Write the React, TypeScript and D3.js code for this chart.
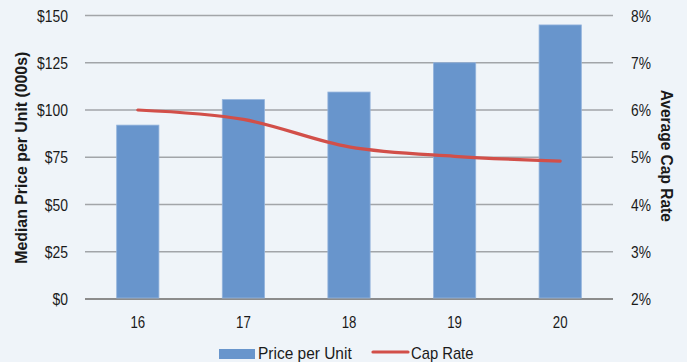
import React from "react";
import * as d3 from "d3";

const years = ["16", "17", "18", "19", "20"];
const pricePerUnit = [92, 105.5, 109.5, 125, 145];
const capRate = [6.0, 5.8, 5.22, 5.02, 4.92];
const leftTicks = [0, 25, 50, 75, 100, 125, 150];
const rightTicks = [2, 3, 4, 5, 6, 7, 8];

const W = 687;
const H = 362;
const FONT = "'Liberation Sans', Arial, sans-serif";

function SText(props: {
  x: number;
  y: number;
  sx: number;
  anchor?: string;
  size: number;
  dy?: string;
  weight?: string;
  rot?: number;
  children: React.ReactNode;
}) {
  const { x, y, sx, anchor = "start", size, dy, weight = "normal", rot = 0 } = props;
  return (
    <text
      transform={`translate(${x},${y}) rotate(${rot}) scale(${sx},1)`}
      textAnchor={anchor}
      dy={dy}
      fontFamily={FONT}
      fontSize={size}
      fontWeight={weight}
      fill="#1a1a1a"
    >
      {props.children}
    </text>
  );
}

export default function App() {
  const left = 85;
  const right = 613;
  const top = 15.5;
  const bottom = 299;

  const x = d3.scaleBand<string>().domain(years).range([left, right]).padding(0);
  const yL = d3.scaleLinear().domain([0, 150]).range([bottom, top]);
  const yR = d3.scaleLinear().domain([2, 8]).range([bottom, top]);
  const barW = x.bandwidth() * 0.4;
  const cx = (yr: string) => (x(yr) as number) + x.bandwidth() / 2;

  const line = d3
    .line<number>()
    .x((_, i) => cx(years[i]))
    .y((d) => yR(d))
    .curve(d3.curveCatmullRom.alpha(0.5));

  return (
    <svg width={W} height={H} style={{ position: "absolute", left: 0, top: 0, display: "block" }}>
      <rect x={0} y={0} width={W} height={H} fill="#EFF4F9" />
      {leftTicks.map((t) => (
        <line
          key={"g" + t}
          x1={left}
          x2={right}
          y1={yL(t)}
          y2={yL(t)}
          stroke={t === 0 ? "#8C8C8C" : "#A2A5A9"}
          strokeWidth={t === 0 ? 2 : 1.6}
        />
      ))}
      {pricePerUnit.map((v, i) => (
        <rect
          key={"b" + i}
          x={cx(years[i]) - barW / 2}
          y={yL(v)}
          width={barW}
          height={yL(0) - yL(v) - 1}
          fill="#6895CC"
          stroke="#93B3DC"
          strokeWidth={0.8}
        />
      ))}
      <path d={line(capRate) || ""} fill="none" stroke="#D24F49" strokeWidth={3.2} strokeLinecap="round" />
      {leftTicks.map((t) => (
        <SText key={"l" + t} x={68} y={yL(t)} dy="0.36em" anchor="end" size={17} sx={0.82}>
          {"$" + t}
        </SText>
      ))}
      {rightTicks.map((t) => (
        <SText key={"r" + t} x={631} y={yR(t)} dy="0.36em" size={17} sx={0.81}>
          {t + "%"}
        </SText>
      ))}
      {years.map((yr) => (
        <SText key={"x" + yr} x={cx(yr)} y={328} anchor="middle" size={17} sx={0.78}>
          {yr}
        </SText>
      ))}
      <SText x={27} y={(top + bottom) / 2 + 0.5} rot={-90} anchor="middle" size={16.5} sx={0.96} weight="bold">
        Median Price per Unit (000s)
      </SText>
      <SText x={660.5} y={(top + bottom) / 2 - 1.5} rot={90} anchor="middle" size={16.5} sx={0.94} weight="bold">
        Average Cap Rate
      </SText>
      <rect x={219} y={349} width={36} height={10} fill="#6895CC" />
      <SText x={258} y={359} size={17} sx={0.91}>
        Price per Unit
      </SText>
      <line x1={373} x2={408} y1={352} y2={352} stroke="#D24F49" strokeWidth={3.2} strokeLinecap="round" />
      <SText x={411} y={359} size={17} sx={0.87}>
        Cap Rate
      </SText>
    </svg>
  );
}
